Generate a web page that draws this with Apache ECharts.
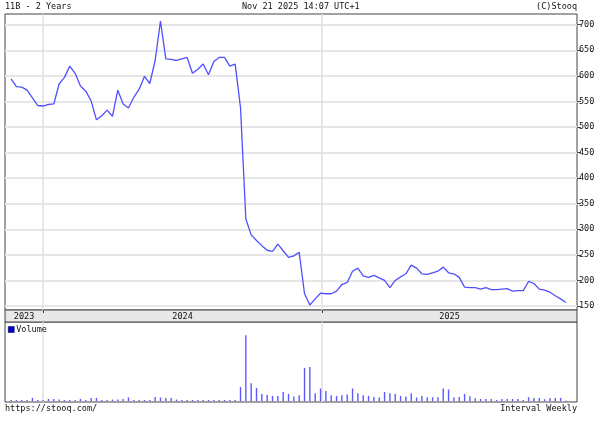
<!DOCTYPE html>
<html><head><meta charset="utf-8">
<script src="https://cdn.jsdelivr.net/npm/echarts@6/dist/echarts.min.js"></script>
<style>html,body{margin:0;padding:0;background:#fff}#c{width:604px;height:421px}</style>
</head><body><div id="c"></div>
<script>
// Weekly closes (week starting Monday 2023-11-20 .. 2025-11-17)
const firstWeek = [2023, 10, 20];
const price = [594,579,578,572,557,542,541,544,545,584,597,619,605,580,570,551,514,522,533,521,
572,545,537,558,574,599,585,630,707,633,632,630,633,636,605,613,623,602,628,636,
636,619,623,538,320,289,278,268,259,257,271,258,245,248,255,174,152,164,175,174,
174,179,192,196,218,224,209,206,210,205,200,186,200,207,213,230,224,213,212,215,
218,226,215,213,206,187,186,186,183,186,182,182,183,184,179,180,180,198,194,183,
181,177,170,164,157];
const volume = [13,13,13,13,33,13,13,23,23,17,13,13,13,23,13,33,33,13,13,17,
17,23,37,13,13,13,13,43,37,33,33,17,13,13,13,13,13,13,13,13,
13,13,13,143,660,180,133,73,63,53,53,93,73,47,60,333,343,80,127,103,
60,53,60,67,127,80,60,53,43,37,93,80,73,53,47,80,37,53,40,40,
40,127,117,37,43,73,50,30,23,23,23,13,23,23,23,23,13,40,33,33,
20,30,33,33,7];
const priceTicks = [150,200,250,300,350,400,450,500,550,600,650,700];
const yearBoundaries = [new Date(2024,0,1).getTime(), new Date(2025,0,1).getTime()];
const xMin = new Date(2023,10,12).getTime();
const xMax = new Date(2025,11,1,12).getTime();
const yearLabelPos = [
  (xMin + yearBoundaries[0]) / 2,
  (yearBoundaries[0] + yearBoundaries[1]) / 2,
  (yearBoundaries[1] + xMax) / 2
];

const dates = price.map((_, i) => new Date(firstWeek[0], firstWeek[1], firstWeek[2] + 7 * i).getTime());
const priceData = price.map((v, i) => [dates[i], v]);
const volData = volume.map((v, i) => [dates[i], v]);

const FONT = 'DejaVu Sans Mono';
const FS = 8.5;
const txt = {fontFamily: FONT, fontSize: FS, color: '#111', fontWeight: 'normal'};

const chart = echarts.init(document.getElementById('c'), null, {renderer: 'canvas'});
chart.setOption({
  animation: false,
  backgroundColor: '#fff',
  title: [
    {text: '11B - 2 Years', left: 5, top: 2, padding: 0, textStyle: txt},
    {text: 'Nov 21 2025 14:07 UTC+1', left: 242, top: 2, padding: 0, textStyle: txt},
    {text: '(C)Stooq', right: 27, top: 2, padding: 0, textStyle: txt},
    {text: 'https://stooq.com/', left: 5, top: 404, padding: 0, textStyle: txt},
    {text: 'Interval Weekly', right: 27, top: 404, padding: 0, textStyle: txt}
  ],
  legend: {
    data: [{name: 'Volume', itemStyle: {color: '#0000cc', borderColor: '#000033', borderWidth: 0.5}}],
    left: 8, top: 325, padding: 0, itemWidth: 6, itemHeight: 6, itemGap: 2,
    icon: 'rect', textStyle: Object.assign({}, txt, {padding: [0,0,0,-3]}),
    selectedMode: false
  },
  grid: [
    {left: 5, right: 27, top: 14, height: 296, show: true, borderColor: '#444', borderWidth: 1, backgroundColor: '#fff'},
    {left: 5, right: 27, top: 322, height: 80, show: true, borderColor: '#444', borderWidth: 1, backgroundColor: '#fff'},
    {left: 5, right: 27, top: 310, height: 12, show: true, borderColor: '#444', borderWidth: 1, backgroundColor: '#e8e8e8', z: 0}
  ],
  xAxis: [
    {type: 'value', gridIndex: 0, min: xMin, max: xMax,
     axisLine: {show: false},
     axisTick: {show: true, customValues: yearBoundaries, length: 3, lineStyle: {color: '#444'}},
     axisLabel: {show: true, customValues: yearLabelPos, margin: 2, fontFamily: FONT, fontSize: FS, color: '#111',
       formatter: v => String(new Date(v).getFullYear())},
     splitLine: {show: true, lineStyle: {color: '#e0e0e0', width: 1.5}}},
    {type: 'value', gridIndex: 1, min: xMin, max: xMax,
     axisLine: {show: false},
     axisTick: {show: false, customValues: yearBoundaries},
     axisLabel: {show: false, customValues: yearBoundaries},
     splitLine: {show: true, lineStyle: {color: '#e0e0e0', width: 1.5}}},
    {type: 'value', gridIndex: 2, min: xMin, max: xMax, show: false, splitLine: {show: false}}
  ],
  yAxis: [
    {type: 'value', gridIndex: 0, position: 'right', min: 142.2, max: 720.9,
     axisLine: {show: false},
     axisTick: {show: true, customValues: priceTicks, length: 4, lineStyle: {color: '#444'}},
     axisLabel: {show: true, customValues: priceTicks, margin: 2, fontFamily: FONT, fontSize: FS, color: '#111'},
     splitLine: {show: true, lineStyle: {color: '#e6e6e6', width: 2}}},
    {type: 'value', gridIndex: 1, min: -8, max: 792, show: false, splitLine: {show: false}},
    {type: 'value', gridIndex: 2, min: 0, max: 1, show: false, splitLine: {show: false}}
  ],
  series: [
    {name: 'Price', type: 'line', xAxisIndex: 0, yAxisIndex: 0, data: priceData,
     showSymbol: false, symbol: 'none', lineStyle: {color: '#5050ff', width: 1.3}, itemStyle: {color: '#5050ff'}},
    {name: 'Volume', type: 'bar', xAxisIndex: 1, yAxisIndex: 1, data: volData,
     barWidth: 1.4, itemStyle: {color: '#5a5aff'}}
  ]
});
</script></body></html>
